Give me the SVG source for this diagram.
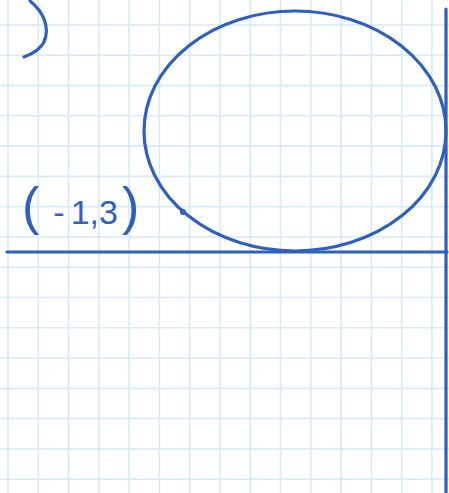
<svg xmlns="http://www.w3.org/2000/svg" width="449" height="493" viewBox="0 0 449 493">
<style>
.g line{stroke:#d5ebf9;stroke-width:1.6}
.ink{fill:none;stroke:#2f5fbf;stroke-width:3.2;stroke-linecap:round;stroke-linejoin:round}
.lbl{fill:#2f5fbf;font-family:"Liberation Sans",sans-serif}
</style>
<rect width="449" height="493" fill="#fff"/>
<g class="g" id="grid">
<line x1="8" y1="0" x2="8" y2="493"/><line x1="38.3" y1="0" x2="38.3" y2="493"/><line x1="68.6" y1="0" x2="68.6" y2="493"/><line x1="98.8" y1="0" x2="98.8" y2="493"/><line x1="129.1" y1="0" x2="129.1" y2="493"/><line x1="159.4" y1="0" x2="159.4" y2="493"/><line x1="189.7" y1="0" x2="189.7" y2="493"/><line x1="220" y1="0" x2="220" y2="493"/><line x1="250.2" y1="0" x2="250.2" y2="493"/><line x1="280.5" y1="0" x2="280.5" y2="493"/><line x1="310.8" y1="0" x2="310.8" y2="493"/><line x1="341.1" y1="0" x2="341.1" y2="493"/><line x1="371.4" y1="0" x2="371.4" y2="493"/><line x1="401.6" y1="0" x2="401.6" y2="493"/><line x1="431.9" y1="0" x2="431.9" y2="493"/>
<line x1="0" y1="25" x2="449" y2="25"/><line x1="0" y1="55.3" x2="449" y2="55.3"/><line x1="0" y1="85.6" x2="449" y2="85.6"/><line x1="0" y1="115.8" x2="449" y2="115.8"/><line x1="0" y1="146.1" x2="449" y2="146.1"/><line x1="0" y1="176.4" x2="449" y2="176.4"/><line x1="0" y1="206.7" x2="449" y2="206.7"/><line x1="0" y1="237" x2="449" y2="237"/><line x1="0" y1="267.2" x2="449" y2="267.2"/><line x1="0" y1="297.5" x2="449" y2="297.5"/><line x1="0" y1="327.8" x2="449" y2="327.8"/><line x1="0" y1="358" x2="449" y2="358"/><line x1="0" y1="388.4" x2="449" y2="388.4"/><line x1="0" y1="418.6" x2="449" y2="418.6"/><line x1="0" y1="449" x2="449" y2="449"/><line x1="0" y1="479.2" x2="449" y2="479.2"/>
</g>
<g id="axes">
<line class="ink" x1="7" y1="252" x2="447" y2="252"/>
<line class="ink" x1="446" y1="9" x2="446" y2="493"/>
</g>
<g id="shapes">
<path class="ink" d="M30 1 C44 12 50 28 44 42 C40 50 32 54 24 57"/>
<ellipse class="ink" cx="295" cy="131" rx="151" ry="120"/>
<circle cx="183" cy="212" r="3" fill="#2f5fbf"/>
</g>
<g id="label">
<text class="lbl" x="22" y="224" font-size="34"><tspan font-size="52">(</tspan><tspan dx="14">-</tspan><tspan dx="6">1,3</tspan><tspan dx="4" font-size="52">)</tspan></text>
</g>
</svg>
